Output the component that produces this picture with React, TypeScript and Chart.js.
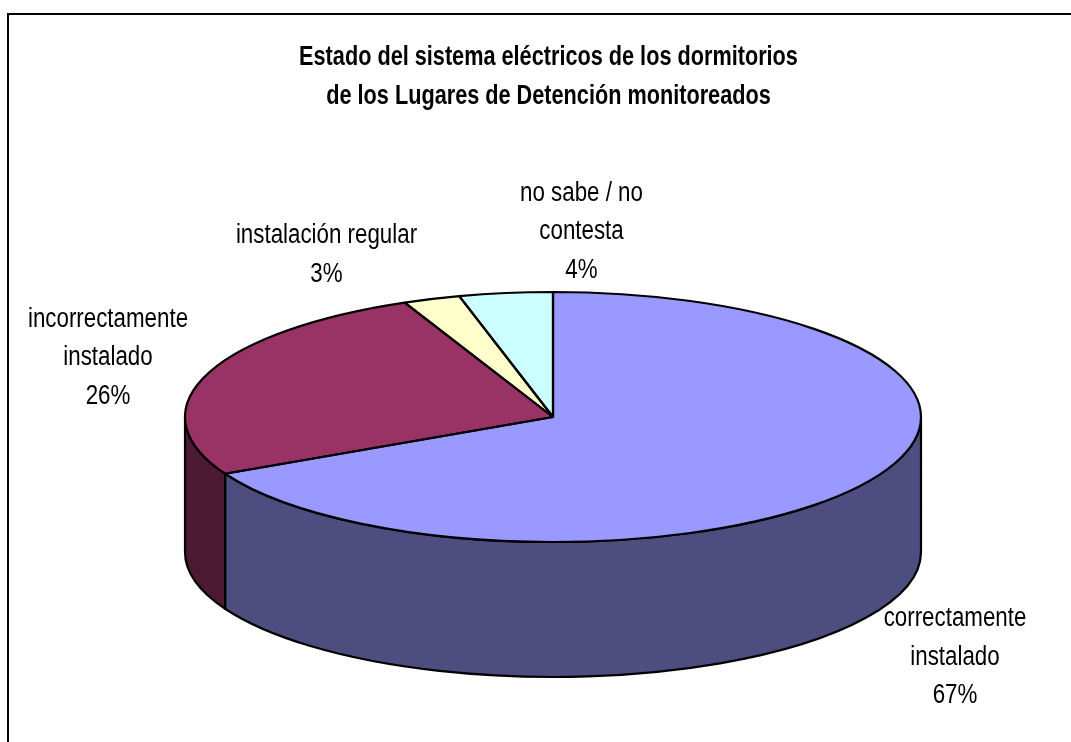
import React, { useEffect, useRef } from "react";
import { Chart, registerables } from "chart.js";

Chart.register(...registerables);

const titleLines = [
  "Estado del sistema eléctricos de los dormitorios",
  "de los Lugares de Detención monitoreados",
];
const categories = [
  "correctamente instalado",
  "incorrectamente instalado",
  "instalación regular",
  "no sabe / no contesta",
];
const values = [67.5, 25.9, 2.5, 4.1];
const labelLines = [
  ["correctamente", "instalado", "67%"],
  ["incorrectamente", "instalado", "26%"],
  ["instalación regular", "3%"],
  ["no sabe / no", "contesta", "4%"],
];
const labelAnchors = [
  [955, 626],
  [108, 326.5],
  [326.5, 243],
  [581.5, 200.5],
];
const topColors = ["#9999FF", "#993366", "#FFFFCC", "#CCFFFF"];
const sideColors = ["#4D4D80", "#4D1A33", "#808066", "#668080"];

const squash = 125 / 368;
const depth = 135;
const LABEL_FONT = '27px "Liberation Sans"';
const TITLE_FONT = 'bold 27px "Liberation Sans"';
const labelScale = 0.827;
const titleScale = 0.803;
const lineGap = 38.5;

function drawText(ctx: CanvasRenderingContext2D, text: string, x: number, y: number, scale: number) {
  const w = ctx.measureText(text).width * scale;
  ctx.fillText(text, x, y, w);
}

const pie3d = {
  id: "pie3d",
  beforeDraw(chart: any) {
    const { ctx, width, height } = chart;
    ctx.save();
    ctx.fillStyle = "#fff";
    ctx.fillRect(0, 0, width, height);
    ctx.strokeStyle = "#000";
    ctx.lineWidth = 2;
    ctx.beginPath();
    ctx.moveTo(8, height);
    ctx.lineTo(8, 14);
    ctx.lineTo(width, 14);
    ctx.stroke();
    ctx.restore();
  },
  beforeDatasetDraw(chart: any) {
    const { ctx } = chart;
    const arcs = chart.getDatasetMeta(0).data;
    const cx = arcs[0].x;
    const cy = arcs[0].y;
    const rx = arcs[0].outerRadius;
    const ry = rx * squash;
    ctx.save();
    ctx.lineWidth = 2.2;
    ctx.strokeStyle = "#000";
    ctx.lineJoin = "round";
    arcs.forEach((arc: any, i: number) => {
      for (const shift of [0, Math.PI * 2, -Math.PI * 2]) {
        const a = Math.max(arc.startAngle + shift, 0);
        const b = Math.min(arc.endAngle + shift, Math.PI);
        if (b <= a) continue;
        ctx.beginPath();
        ctx.ellipse(cx, cy, rx, ry, 0, a, b);
        ctx.ellipse(cx, cy + depth, rx, ry, 0, b, a, true);
        ctx.closePath();
        ctx.fillStyle = sideColors[i];
        ctx.fill();
        ctx.stroke();
      }
    });
    ctx.restore();
    ctx.save();
    ctx.translate(cx, cy);
    ctx.scale(1, squash);
    ctx.translate(-cx, -cy);
  },
  afterDatasetDraw(chart: any) {
    const { ctx } = chart;
    ctx.restore();
    const arcs = chart.getDatasetMeta(0).data;
    ctx.save();
    ctx.lineWidth = 2.2;
    ctx.strokeStyle = "#000";
    ctx.lineJoin = "round";
    arcs.forEach((arc: any) => {
      const rx = arc.outerRadius;
      const ry = rx * squash;
      ctx.beginPath();
      ctx.moveTo(arc.x, arc.y);
      ctx.ellipse(arc.x, arc.y, rx, ry, 0, arc.startAngle, arc.endAngle);
      ctx.closePath();
      ctx.stroke();
    });
    ctx.restore();
  },
  afterDraw(chart: any) {
    const { ctx } = chart;
    ctx.save();
    ctx.fillStyle = "#000";
    ctx.textAlign = "center";
    ctx.textBaseline = "alphabetic";
    ctx.font = TITLE_FONT;
    titleLines.forEach((line, i) => drawText(ctx, line, 548.5, 65 + i * 39, titleScale));
    ctx.font = LABEL_FONT;
    labelLines.forEach((lines, i) => {
      const [x, y] = labelAnchors[i];
      lines.forEach((line, j) => drawText(ctx, line, x, y + j * lineGap, labelScale));
    });
    ctx.restore();
  },
};

export default function App() {
  const ref = useRef<HTMLCanvasElement>(null);
  useEffect(() => {
    const chart = new Chart(ref.current!, {
      type: "pie",
      data: {
        labels: categories,
        datasets: [
          {
            data: values,
            backgroundColor: topColors,
            borderWidth: 0,
            radius: 368,
            clip: false,
          } as any,
        ],
      },
      options: {
        responsive: false,
        animation: false,
        layout: { padding: { left: 35, top: 92, right: 0, bottom: 0 } },
        plugins: {
          legend: { display: false },
          title: { display: false },
          tooltip: { enabled: false },
        },
      },
      plugins: [pie3d],
    });
    return () => chart.destroy();
  }, []);
  return (
    <div style={{ position: "fixed", left: 0, top: 0, width: 1071, height: 742 }}>
      <canvas ref={ref} width={1071} height={742} style={{ display: "block" }} />
    </div>
  );
}
